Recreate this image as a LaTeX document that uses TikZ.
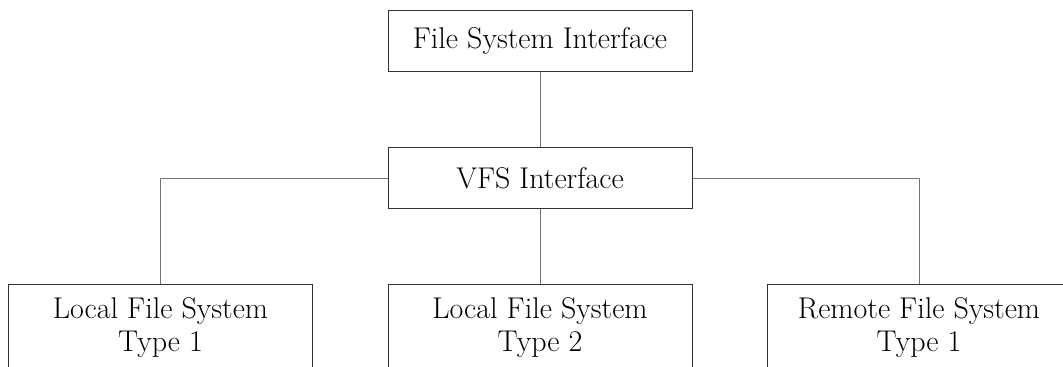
\documentclass[tikz,border=0pt]{standalone}
\usepackage{tikz}

\begin{document}
\begin{tikzpicture}[x=0.75pt, y=0.75pt,
        box/.style={draw=black!80, line width=0.75pt, minimum width=228pt,
            align=center, font=\fontsize{22.5}{25}\selectfont},
        link/.style={draw=black!55, line width=0.75pt}]
        % Fix the page size (the bottom row runs off the page)
        \useasboundingbox (0, 0) rectangle (1063, 367);
        \clip (0, 0) rectangle (1063, 367);

        % Upper layers
        \node[box, minimum height=45.75pt] (fsi) at (540, 325.5) {File System Interface};
        \node[box, minimum height=45.75pt] (vfs) at (540, 188.5) {VFS Interface};

        % Concrete file systems
        \foreach[count=\i] \x/\name/\label in {
            160.5/lfsa/Local File System \\ Type 1,
            540/lfsb/Local File System \\ Type 2,
            919/rfs/Remote File System \\ Type 1}{
            \node[box, minimum height=63.75pt] (\name) at (\x, 39.5) {\label};
        }

        % Connect the layers
        \draw[link] (fsi) -- (vfs);
        \draw[link] (vfs.west) -| (lfsa.north);
        \draw[link] (vfs) -- (lfsb);
        \draw[link] (vfs.east) -| (rfs.north);
    \end{tikzpicture}
\end{document}
